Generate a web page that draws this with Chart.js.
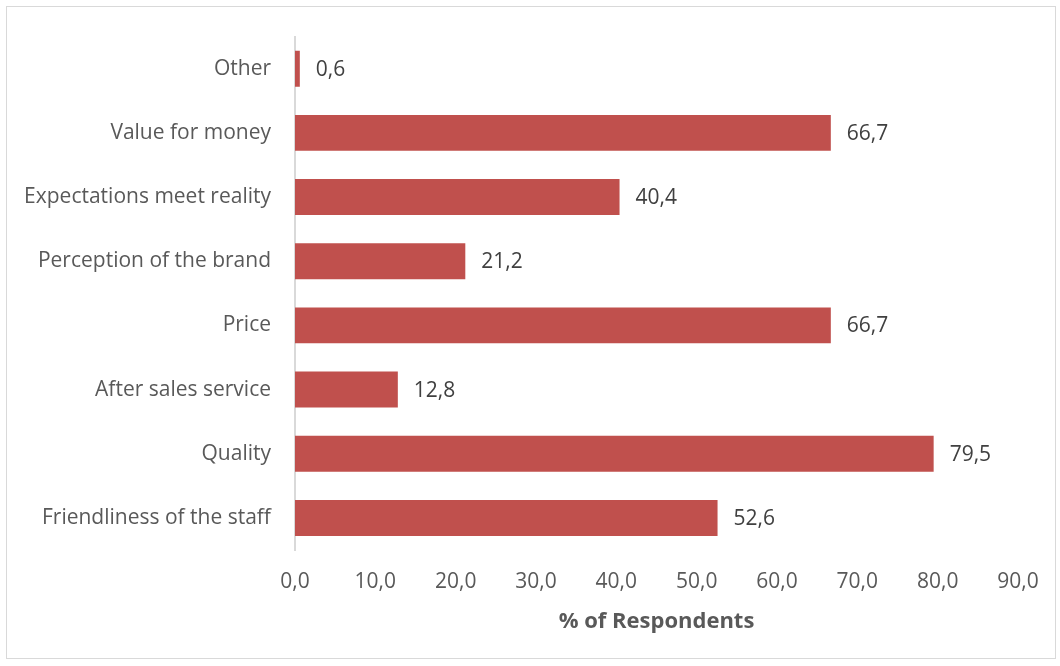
<!DOCTYPE html>
<html lang="en">
    <head>
        <meta charset="UTF-8" />
        <title>% of Respondents</title>
        <script src="https://cdn.jsdelivr.net/npm/chart.js"></script>
        <style>
            body { margin: 0; background: #fff; }
            #wrap { position: relative; width: 1060px; height: 666px; }
            #frame {
                position: absolute; left: 6px; top: 6px; width: 1050px; height: 653px;
                border: 1px solid #d9d9d9; box-sizing: border-box; pointer-events: none;
            }
            canvas { position: absolute; left: 0; top: 0; }
        </style>
    </head>
    <body>
        <div id="wrap">
            <canvas id="myChart" width="1060" height="666"></canvas>
            <div id="frame"></div>
        </div>

        <script>
            // categories, top to bottom in the chart
            const categories = [
                "Other",
                "Value for money",
                "Expectations meet reality",
                "Perception of the brand",
                "Price",
                "After sales service",
                "Quality",
                "Friendliness of the staff",
            ];
            const percentages = [0.6, 66.7, 40.4, 21.2, 66.7, 12.8, 79.5, 52.6];

            const fmt = (v) => v.toFixed(1).replace(".", ",");

            // value labels to the right of each bar
            const valueLabels = {
                id: "valueLabels",
                afterDatasetsDraw(chart) {
                    const ctx = chart.ctx;
                    const meta = chart.getDatasetMeta(0);
                    ctx.save();
                    ctx.font = "21px 'Open Sans'";
                    ctx.fillStyle = "#404040";
                    ctx.textAlign = "left";
                    ctx.textBaseline = "middle";
                    meta.data.forEach((bar, i) => {
                        ctx.fillText(fmt(percentages[i]), bar.x + 16, bar.y + 1);
                    });
                    ctx.restore();
                },
            };

            var ctx = document.getElementById("myChart").getContext("2d");
            var myChart = new Chart(ctx, {
                type: "bar",
                data: {
                    labels: categories,
                    datasets: [
                        {
                            data: percentages,
                            backgroundColor: "#C0504D",
                            categoryPercentage: 1,
                            barPercentage: 0.56,
                        },
                    ],
                },
                options: {
                    indexAxis: "y",
                    responsive: false,
                    animation: false,
                    layout: { padding: { top: 36, right: 42, bottom: 0, left: 0 } },
                    scales: {
                        x: {
                            min: 0,
                            max: 90,
                            ticks: {
                                stepSize: 10,
                                padding: 19,
                                color: "#595959",
                                font: { family: "'Open Sans'", size: 21 },
                                callback: (v) => fmt(v),
                            },
                            grid: { display: false, drawTicks: false },
                            border: { display: false },
                            title: {
                                display: true,
                                text: "% of Respondents",
                                color: "#595959",
                                font: { family: "'Open Sans'", size: 22, weight: "bold" },
                                padding: { top: 0, bottom: 31 },
                            },
                            afterFit: (s) => { s.height = 116; },
                        },
                        y: {
                            ticks: {
                                padding: 24,
                                color: "#595959",
                                font: { family: "'Open Sans'", size: 21 },
                            },
                            grid: { display: false, drawTicks: false },
                            border: { display: true, color: "#d9d9d9", width: 2 },
                            afterFit: (s) => { s.width = 295; },
                        },
                    },
                    plugins: {
                        legend: { display: false },
                        tooltip: { enabled: false },
                    },
                },
                plugins: [valueLabels],
            });
        </script>
    </body>
</html>
